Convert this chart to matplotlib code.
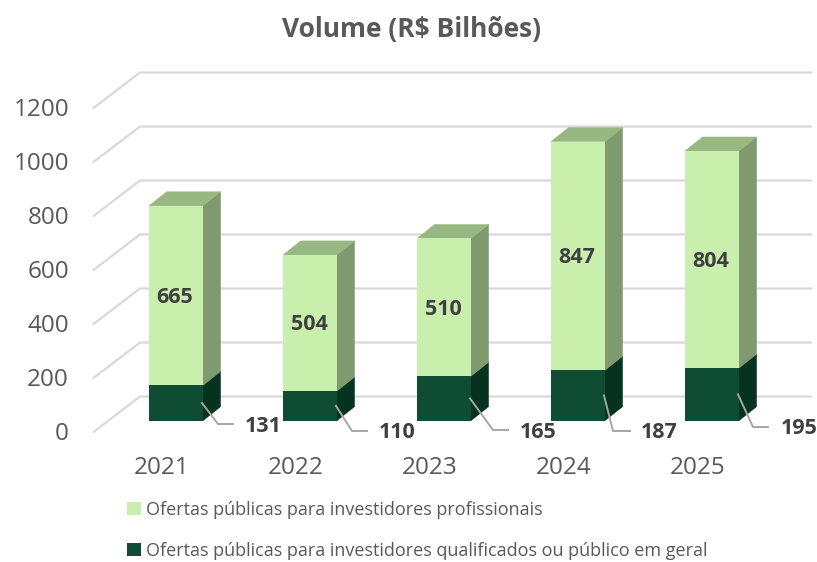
import matplotlib
matplotlib.use("Agg")
import matplotlib.pyplot as plt
from matplotlib.patches import Polygon

years = ["2021", "2022", "2023", "2024", "2025"]
qualificados = [131, 110, 165, 187, 195]
profissionais = [665, 504, 510, 847, 804]
y_ticks = [0, 200, 400, 600, 800, 1000, 1200]
title = "Volume (R$ Bilhões)"
label_prof = "Ofertas públicas para investidores profissionais"
label_qual = "Ofertas públicas para investidores qualificados ou público em geral"

W, H = 817, 562
X0, XSTEP = 176.0, 134.0     # px of first bar centre, px per category
Y0, YSCALE = 420.7, 0.27     # px of bar base, px per unit

def px_x(p):
    return (p - X0) / XSTEP

def px_y(p):
    return (Y0 - p) / YSCALE

plt.rcParams["font.family"] = ["Open Sans", "DejaVu Sans"]
TXT = "#595959"
GRID = "#d9d9d9"

fig = plt.figure(figsize=(W / 100, H / 100), dpi=100, facecolor="white")
ax = fig.add_axes([0, 0, 1, 1])
ax.set_xlim(px_x(0), px_x(W))
ax.set_ylim(px_y(H), px_y(0))
ax.axis("off")

# depth of the bars and of the floor, in data units
bdx, bdy = 17.6 / XSTEP, 14 / YSCALE
wall_dy = (Y0 - 396.5) / YSCALE
front_dy = (432 - Y0) / YSCALE

# gridlines: slanted floor/side part + back wall part
for v in y_ticks:
    ax.plot([px_x(93.5), px_x(140), px_x(811)],
            [v - front_dy, v + wall_dy, v + wall_dy],
            color=GRID, lw=1.6, solid_capstyle="round", solid_joinstyle="round", zorder=1)
    ax.text(px_x(69), v - front_dy + 1 / YSCALE, str(v), ha="right", va="center_baseline",
            fontsize=17.5, color=TXT)

xs = list(range(len(years)))
bw = 54 / XSTEP

b1 = ax.bar(xs, qualificados, width=bw, color="#0E4D33", zorder=3, label=label_qual)
b2 = ax.bar(xs, profissionais, width=bw, bottom=qualificados, color="#C8EFAC", zorder=3, label=label_prof)

for i, x in enumerate(xs):
    r = x + bw / 2
    l = x - bw / 2
    q = qualificados[i]
    t = q + profissionais[i]
    ax.add_patch(Polygon([(r, 0), (r + bdx, bdy), (r + bdx, q + bdy), (r, q)],
                         closed=True, fc="#053320", ec="#053320", lw=0.3, zorder=2.8))
    ax.add_patch(Polygon([(r, q), (r + bdx, q + bdy), (r + bdx, t + bdy), (r, t)],
                         closed=True, fc="#7E9A6E", ec="#7E9A6E", lw=0.3, zorder=2.8))
    ax.add_patch(Polygon([(l, t), (r, t), (r + bdx, t + bdy), (l + bdx, t + bdy)],
                         closed=True, fc="#97B880", ec="#97B880", lw=0.3, zorder=2.8))
    ax.text(x - 1 / XSTEP, q + profissionais[i] / 2 - 2 / YSCALE, str(profissionais[i]), ha="center",
            va="center", fontsize=15.5, fontweight="bold", color="#404040", zorder=5)
    ax.text(x - 14 / XSTEP, px_y(468), years[i], ha="center", va="center",
            fontsize=17.5, color=TXT)

# leader lines and outer labels
mid_px_y = [424, 431, 430, 431, 427]
elbow_dx = [42, 42, 49, 35, 41]
end_dx = [57, 57, 64, 52, 56]
lab_dx = [69, 69, 76, 63, 69]
for i, x in enumerate(xs):
    q = qualificados[i]
    sx = x + 26 / XSTEP
    ax.plot([sx, x + elbow_dx[i] / XSTEP, x + end_dx[i] / XSTEP],
            [q / 2, px_y(mid_px_y[i]), px_y(mid_px_y[i])],
            color="#a6a6a6", lw=1.4, zorder=6, solid_joinstyle="round")
    ax.text(x + lab_dx[i] / XSTEP, px_y(mid_px_y[i] + 2), str(q), ha="left", va="center",
            fontsize=15.5, fontweight="bold", color="#404040", zorder=6)

ax.text(px_x(411), px_y(30), title, ha="center", va="center", fontsize=19,
        fontweight="bold", color=TXT)

leg = ax.legend(handles=[b2, b1], labels=[label_prof, label_qual], loc="upper left",
                bbox_to_anchor=(123 / W, 1 - 497 / H), bbox_transform=fig.transFigure,
                frameon=False, fontsize=13.0, labelcolor=TXT, handlelength=0.78,
                handleheight=0.78, handletextpad=0.3, labelspacing=1.28,
                borderpad=0.2, borderaxespad=0)

fig.savefig("out.png", dpi=100, facecolor="white")
